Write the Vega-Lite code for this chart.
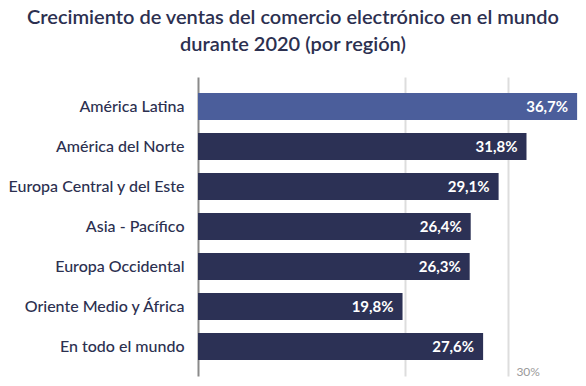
{
  "$schema": "https://vega.github.io/schema/vega-lite/v6.json",
  "autosize": "none",
  "width": 388,
  "height": 299,
  "padding": {"left": 198, "top": 77, "right": 0, "bottom": 10},
  "title": {
    "text": ["Crecimiento de ventas del comercio electrónico en el mundo", "durante 2020 (por región)"],
    "anchor": "middle",
    "dx": -99,
    "offset": 22,
    "font": "Lato",
    "fontSize": 20,
    "fontWeight": 600,
    "color": "#2c3050",
    "lineHeight": 27
  },
  "config": {
    "locale": {"number": {"decimal": ",", "thousands": ".", "grouping": [3], "currency": ["", " €"]}},
    "view": {"stroke": null},
    "font": "Lato"
  },
  "data": {
    "values": [
      {"region": "América Latina", "value": 0.367, "highlight": "yes"},
      {"region": "América del Norte", "value": 0.318, "highlight": "no"},
      {"region": "Europa Central y del Este", "value": 0.291, "highlight": "no"},
      {"region": "Asia - Pacífico", "value": 0.264, "highlight": "no"},
      {"region": "Europa Occidental", "value": 0.263, "highlight": "no"},
      {"region": "Oriente Medio y África", "value": 0.198, "highlight": "no"},
      {"region": "En todo el mundo", "value": 0.276, "highlight": "no"}
    ]
  },
  "encoding": {
    "y": {
      "field": "region",
      "type": "nominal",
      "sort": null,
      "scale": {"paddingInner": 0.325, "paddingOuter": 0.4},
      "axis": {
        "title": null,
        "ticks": false,
        "labelPadding": 14,
        "labelFontSize": 16,
        "labelFontWeight": 500,
        "labelColor": "#2c3050",
        "labelFont": "Lato",
        "domainColor": "#8a8a8a",
        "domainWidth": 2,
        "grid": false
      }
    },
    "x": {
      "field": "value",
      "type": "quantitative",
      "scale": {"domain": [0, 0.3756], "nice": false},
      "axis": {
        "title": null,
        "values": [0.2, 0.3],
        "format": ".0%",
        "labelExpr": "datum.value > 0.25 ? datum.label : ''",
        "domain": false,
        "ticks": false,
        "grid": true,
        "gridColor": "#dddddd",
        "gridWidth": 2,
        "labelAlign": "left",
        "labelBaseline": "middle",
        "labelOffset": 8,
        "labelPadding": -5,
        "labelFontSize": 12,
        "labelColor": "#9a9a9a",
        "labelFont": "Lato"
      }
    }
  },
  "layer": [
    {
      "mark": {"type": "bar"},
      "encoding": {
        "color": {
          "field": "highlight",
          "type": "nominal",
          "scale": {"domain": ["yes", "no"], "range": ["#4b5e9b", "#2c3155"]},
          "legend": null
        }
      }
    },
    {
      "mark": {"type": "text", "align": "right", "dx": -9, "color": "white", "fontSize": 15, "fontWeight": "bold", "font": "Lato"},
      "encoding": {
        "text": {"field": "value", "type": "quantitative", "format": ".1%"}
      }
    }
  ]
}
